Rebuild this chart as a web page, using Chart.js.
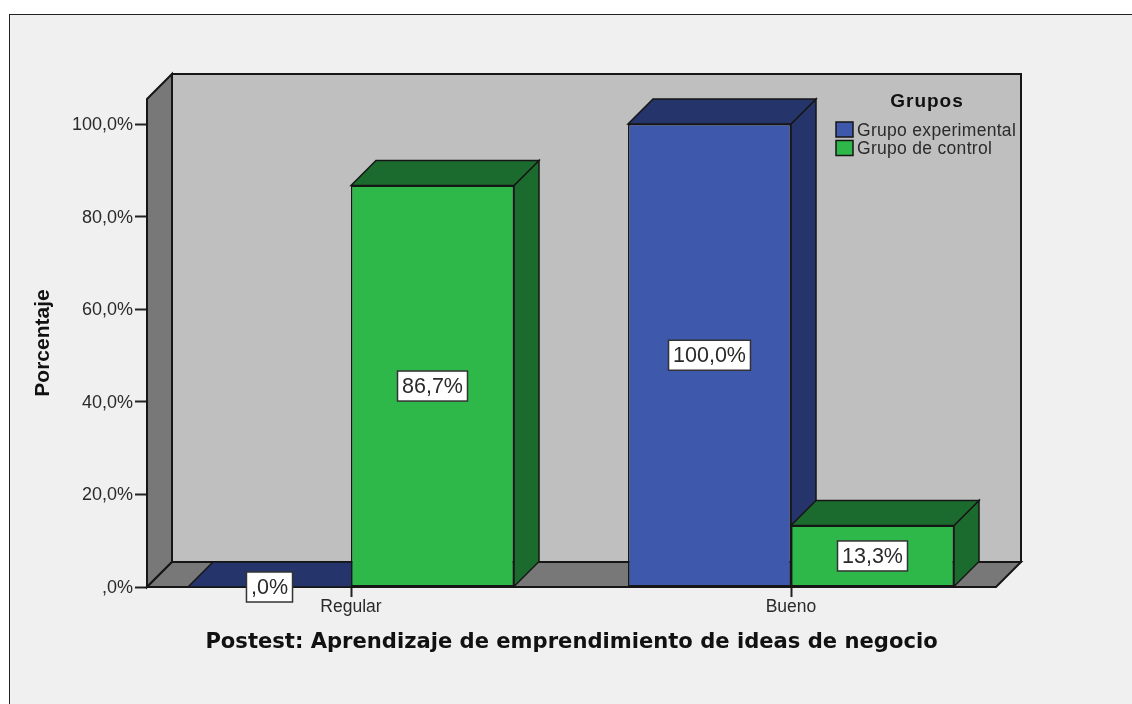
<!DOCTYPE html>
<html>
<head>
<meta charset="utf-8">
<style>html,body{margin:0;padding:0;background:#fff}canvas{display:block;filter:blur(0.35px)}</style>
<script src="https://cdn.jsdelivr.net/npm/chart.js@4/dist/chart.umd.min.js"></script>
</head>
<body>
<canvas id="c" width="1132" height="704"></canvas>
<script>
const categories = ['Regular', 'Bueno'];
const experimental = [0, 100];
const control = [86.7, 13.3];
const yTicks = [0, 20, 40, 60, 80, 100];
const legendTitle = 'Grupos';
const seriesNames = ['Grupo experimental', 'Grupo de control'];
const xTitle = 'Postest: Aprendizaje de emprendimiento de ideas de negocio';
const yTitle = 'Porcentaje';

const DEPTH = 25;
const LINE = '#161616';
const INK = '#2a2a2a';
const front = ['#3E58AC', '#2EB84A'];
const shade = ['#25346B', '#1C6B2E'];
const SANS = '"Liberation Sans", Arial, sans-serif';

const pct = v => v === 0 ? ',0%' : v.toFixed(1).replace('.', ',') + '%';

function poly(ctx, pts, fill, lw) {
  ctx.beginPath();
  pts.forEach((p, i) => i ? ctx.lineTo(p[0], p[1]) : ctx.moveTo(p[0], p[1]));
  ctx.closePath();
  ctx.fillStyle = fill;
  ctx.fill();
  ctx.lineWidth = lw;
  ctx.strokeStyle = LINE;
  ctx.lineJoin = 'miter';
  ctx.stroke();
}

const scene = {
  id: 'scene',
  beforeDraw(chart) {
    const c = chart.ctx;
    c.save();
    c.fillStyle = '#fff';
    c.fillRect(0, 0, chart.width, chart.height);
    c.fillStyle = '#F0F0F0';
    c.fillRect(9.5, 14.5, chart.width, chart.height);
    c.strokeStyle = '#222';
    c.lineWidth = 1;
    c.strokeRect(9.5, 14.5, chart.width + 20, chart.height + 20);
    c.restore();
  },
  beforeDatasetsDraw(chart) {
    const c = chart.ctx, a = chart.chartArea, d = DEPTH;
    c.save();
    poly(c, [[a.left + d, a.top - d], [a.right + d, a.top - d], [a.right + d, a.bottom - d], [a.left + d, a.bottom - d]], '#BFBFBF', 2);
    poly(c, [[a.left, a.top], [a.left + d, a.top - d], [a.left + d, a.bottom - d], [a.left, a.bottom]], '#787878', 2);
    poly(c, [[a.left, a.bottom], [a.left + d, a.bottom - d], [a.right + d, a.bottom - d], [a.right, a.bottom]], '#787878', 2);
    categories.forEach((_, i) => {
      chart.data.datasets.forEach((ds, k) => {
        const b = chart.getDatasetMeta(k).data[i];
        const l = b.x - b.width / 2, r = b.x + b.width / 2, t = b.y, bt = b.base;
        poly(c, [[r, t], [r + d, t - d], [r + d, bt - d], [r, bt]], shade[k], 1.5);
        poly(c, [[l, t], [l + d, t - d], [r + d, t - d], [r, t]], shade[k], 1.5);
      });
    });
    c.restore();
  },
  afterDatasetsDraw(chart) {
    const c = chart.ctx;
    c.save();
    c.font = '21.5px ' + SANS;
    c.textAlign = 'center';
    c.textBaseline = 'middle';
    chart.data.datasets.forEach((ds, k) => {
      chart.getDatasetMeta(k).data.forEach((b, i) => {
        const txt = pct(ds.data[i].y);
        const w = c.measureText(txt).width + 9, h = 30;
        const cx = b.x, cy = (b.y + b.base) / 2;
        c.fillStyle = '#fff';
        c.fillRect(cx - w / 2, cy - h / 2, w, h);
        c.strokeStyle = '#333';
        c.lineWidth = 1.5;
        c.strokeRect(cx - w / 2, cy - h / 2, w, h);
        c.fillStyle = INK;
        c.fillText(txt, cx, cy + 1);
      });
    });
    // legend
    c.textAlign = 'center';
    c.fillStyle = '#111';
    c.font = 'bold 19px ' + SANS;
    c.letterSpacing = '1px';
    c.fillText(legendTitle, 927, 102);
    c.letterSpacing = '0.3px';
    c.textAlign = 'left';
    c.font = '17.5px ' + SANS;
    seriesNames.forEach((n, k) => {
      const y = 122 + k * 18.5;
      c.fillStyle = front[k];
      c.fillRect(836, y, 17, 15);
      c.strokeStyle = LINE;
      c.lineWidth = 1.5;
      c.strokeRect(836, y, 17, 15);
      c.fillStyle = INK;
      c.fillText(n, 857, y + 9);
    });
    c.restore();
  }
};

const xMin = (147 - 351) / 440;
const xMax = 1 + (996 - 791) / 440;

new Chart(document.getElementById('c'), {
  type: 'bar',
  data: {
    datasets: [
      { label: seriesNames[0], data: experimental.map((y, x) => ({ x, y })), backgroundColor: front[0] },
      { label: seriesNames[1], data: control.map((y, x) => ({ x, y })), backgroundColor: front[1] }
    ]
  },
  options: {
    responsive: false,
    animation: false,
    layout: { padding: { left: 0, top: 99, right: 136, bottom: 0 } },
    datasets: { bar: { categoryPercentage: 326 / 440, barPercentage: 1, borderWidth: 1.5, borderColor: LINE, borderSkipped: false } },
    plugins: { legend: { display: false }, tooltip: { enabled: false } },
    scales: {
      x: {
        type: 'linear', min: xMin, max: xMax, offset: false,
        afterBuildTicks: s => { s.ticks = categories.map((_, i) => ({ value: i })); },
        afterFit: s => { s.height = 117; },
        border: { display: false },
        grid: { offset: false, drawOnChartArea: false, drawTicks: true, tickLength: 10, tickColor: '#222', tickWidth: 2 },
        ticks: { autoSkip: false, maxRotation: 0, padding: 0, color: INK, font: { family: SANS, size: 17.5 }, callback: v => categories[v] },
        title: { display: true, text: xTitle, color: '#111', font: { family: 'DejaVu Sans', weight: 'bold', size: 21.1 }, padding: { top: 0, bottom: 49 } }
      },
      y: {
        min: 0, max: 105.4,
        afterBuildTicks: s => { s.ticks = yTicks.map(value => ({ value })); },
        afterFit: s => { s.width = 147; },
        border: { display: false },
        grid: { drawOnChartArea: false, drawTicks: true, tickLength: 12, tickColor: '#222', tickWidth: 2 },
        ticks: { autoSkip: false, padding: 2, labelOffset: 1, color: INK, font: { family: SANS, size: 18 }, callback: pct },
        title: { display: true, text: yTitle, color: '#111', font: { family: SANS, weight: 'bold', size: 21 }, padding: { top: 31, bottom: 0 } }
      }
    }
  },
  plugins: [scene]
});
</script>
</body>
</html>
